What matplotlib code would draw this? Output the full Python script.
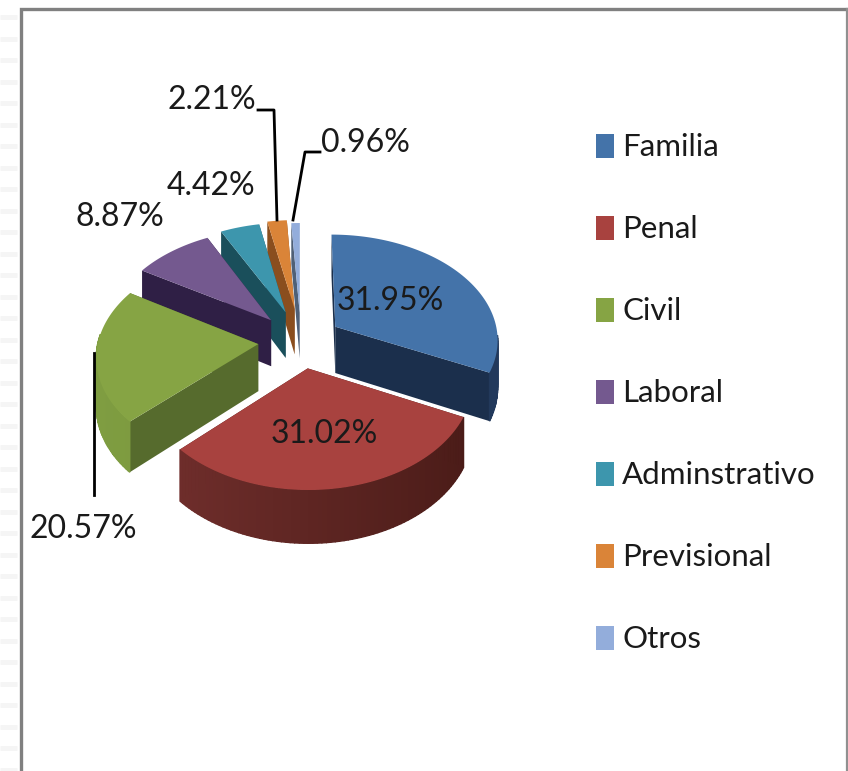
import numpy as np
import matplotlib
matplotlib.use("Agg")
from matplotlib import pyplot as plt
from matplotlib.colors import to_rgb
from matplotlib.patches import Polygon, Rectangle

categories = ["Familia", "Penal", "Civil", "Laboral", "Adminstrativo", "Previsional", "Otros"]
values = [31.95, 31.02, 20.57, 8.87, 4.42, 2.21, 0.96]
value_labels = ["31.95%", "31.02%", "20.57%", "8.87%", "4.42%", "2.21%", "0.96%"]

top_colors = ["#4473a9", "#a8423f", "#86a444", "#74598f", "#3d96ad", "#da8438", "#93addb"]
radial_colors = ["#1b2f4c", "#4a1a16", "#566b2d", "#2f1f45", "#1a4f5b", "#8a4e1e", "#4f6077"]
outer_start = ["#1b2f4c", "#7a3331", "#7f9d41", "#2f1f45", "#1a4f5b", "#8a4e1e", "#4f6077"]
outer_end = ["#22395c", "#451915", "#6f8c38", "#2f1f45", "#1a4f5b", "#8a4e1e", "#4f6077"]
label_pos = [(390, 301), (324, 434), (83, 529), (120, 217), (211, 186), (212, 100), (365, 143)]
explode = [0.25, 0.25, 0.26, 0.27, 0.29, 0.31, 0.27]
radius = [0.99, 0.97, 0.97, 1.0, 1.0, 1.0, 1.0]

cx, cy = 301, 341
R, Ry = 165, 108
persp = 0.11
depth = 47

FONT = ["Lato", "DejaVu Sans"]
LABEL_SIZE = 23
LEGEND_SIZE = 22.5


def project(u, v, drop=0.0):
    p = 1 + persp * v
    return cx + R * u * p, cy + Ry * v * p + drop * depth * p


def draw_slice(ax, i, a0, a1):
    mid = (a0 + a1) / 2
    ue, ve = explode[i] * np.sin(mid), -explode[i] * np.cos(mid)
    ang = np.linspace(a0, a1, 80)
    us = ue + radius[i] * np.sin(ang)
    vs = ve - radius[i] * np.cos(ang)

    # radial walls first, the top face hides the back facing ones
    for k in [0, -1]:
        quad = [project(ue, ve), project(us[k], vs[k]),
                project(us[k], vs[k], 1), project(ue, ve, 1)]
        ax.add_patch(Polygon(quad, color=radial_colors[i], lw=0))

    c0, c1 = np.array(to_rgb(outer_start[i])), np.array(to_rgb(outer_end[i]))
    for j in range(len(ang) - 1):
        if vs[j] < -0.05 and vs[j + 1] < -0.05:
            continue
        t = np.clip((us[j] + 1.2) / 2.4, 0, 1)
        quad = [project(us[j], vs[j]), project(us[j + 1], vs[j + 1]),
                project(us[j + 1], vs[j + 1], 1), project(us[j], vs[j], 1)]
        ax.add_patch(Polygon(quad, color=tuple(c0 + (c1 - c0) * t), lw=1))

    top = [project(ue, ve)] + [project(a, b) for a, b in zip(us, vs)]
    ax.add_patch(Polygon(top, color=top_colors[i], lw=0))


fig = plt.figure(figsize=(8.48, 7.71), dpi=100)
ax = fig.add_axes([0, 0, 1, 1])
ax.set_xlim(0, 848)
ax.set_ylim(771, 0)
ax.axis("off")

# faint stripes on the left of the slide
for y in np.arange(17, 771, 21.5):
    ax.plot([0, 17], [y, y], color="#f5f5f5", lw=3.5, solid_capstyle="butt")

# frame
ax.plot([20.5, 20.5, 846.5], [771, 9, 9], color="#808080", lw=2.4, solid_joinstyle="miter")
ax.plot([846.5, 846.5], [9, 771], color="#909090", lw=1.6)

edges = np.cumsum([0] + values) / sum(values) * 2 * np.pi
for i in [6, 5, 4, 3, 2, 0, 1]:
    draw_slice(ax, i, edges[i], edges[i + 1])

# leader lines
ax.plot([94, 94], [353, 495], color="black", lw=2)
ax.plot([258, 274, 277], [110, 110, 220], color="black", lw=2)
ax.plot([320, 305, 293], [152, 152, 220], color="black", lw=2)

for (x, y), lab in zip(label_pos, value_labels):
    ax.text(x, y, lab, ha="center", va="center", fontsize=LABEL_SIZE,
            family=FONT, color="#1a1a1a")

# legend
for i, name in enumerate(categories):
    yc = 145.5 + i * 82
    ax.add_patch(Rectangle((596, yc - 12), 18, 24, color=top_colors[i], lw=0))
    ax.text(622, yc + 2, name, ha="left", va="center", fontsize=LEGEND_SIZE,
            family=FONT, color="#1a1a1a")

fig.savefig("out.png", dpi=100)
